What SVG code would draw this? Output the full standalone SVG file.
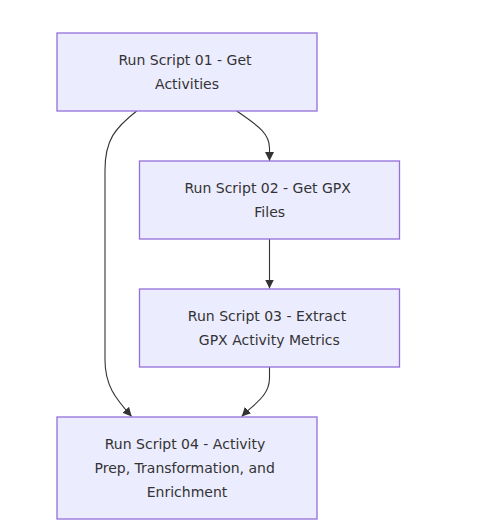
<svg xmlns="http://www.w3.org/2000/svg" width="483" height="532" viewBox="0 0 483 532">
<style>
.node rect{fill:#ECECFF;stroke:#9370DB;stroke-width:1.3px}
.node text{font-family:"DejaVu Sans",Verdana,sans-serif;font-size:14px;fill:#333;text-anchor:middle}
.edge{fill:none;stroke:#333;stroke-width:1.1px;marker-end:url(#arrow)}
</style>
<defs>
<marker id="arrow" viewBox="0 0 10 10" refX="10" refY="5" markerWidth="9" markerHeight="9" markerUnits="userSpaceOnUse" orient="auto">
<path d="M0,0 L10,5 L0,10 z" fill="#333"/>
</marker>
</defs>
<rect width="483" height="532" fill="#fff"/>
<g id="connectors">
<path class="edge" d="M236.7,111 C255,124 269.5,132 269.5,148 L269.5,161"/>
<path class="edge" d="M136.7,111 C115,128 105,140 105,170 L105,360 C105,385 115,398 131.7,416.5"/>
<path class="edge" d="M269.5,239 L269.5,288.5"/>
<path class="edge" d="M269.5,367 L269.5,378 C269.5,396 254,404 241.7,416.5"/>
</g>
<g id="node1" class="node">
<rect x="57" y="33" width="260" height="78"/>
<text x="185" y="65">Run Script 01 - Get</text>
<text x="187" y="89">Activities</text>
</g>
<g id="node2" class="node">
<rect x="139.5" y="161" width="260" height="78"/>
<text x="267.7" y="193">Run Script 02 - Get GPX</text>
<text x="269.7" y="217">Files</text>
</g>
<g id="node3" class="node">
<rect x="139.5" y="289" width="260" height="78"/>
<text x="267" y="321">Run Script 03 - Extract</text>
<text x="269.3" y="345">GPX Activity Metrics</text>
</g>
<g id="node4" class="node">
<rect x="57" y="417" width="260" height="102"/>
<text x="185" y="449">Run Script 04 - Activity</text>
<text x="184.7" y="473">Prep, Transformation, and</text>
<text x="187" y="497">Enrichment</text>
</g>
</svg>
